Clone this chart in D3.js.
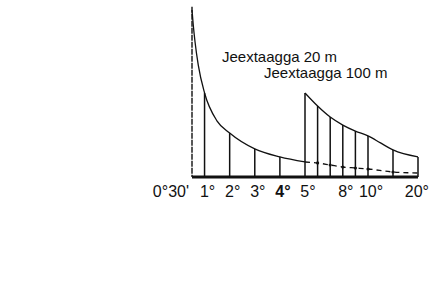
<!DOCTYPE html>
<html>
<head>
<meta charset="utf-8">
<script src="https://cdn.jsdelivr.net/npm/d3@7"></script>
<style>
  body { margin: 0; background: #fff; }
  text { font-family: "Liberation Sans", Arial, sans-serif; fill: #111; }
</style>
</head>
<body>
<div id="chart"></div>
<script>
// 20 m series (solid part), angle in degrees vs relative value
const deg20 = [0.5, 0.55, 0.62, 0.75, 1, 1.5, 2, 3, 4, 5];
const val20 = [100, 91, 81, 67, 50.3, 33.5, 26.3, 16.8, 12.0, 9.0];
// 20 m series continued (dashed)
const deg20b = [5, 6, 7, 8, 9, 10, 15, 20];
const val20b = [9.0, 8.4, 7.2, 6.0, 5.4, 4.8, 3.0, 2.4];
// 100 m series
const deg100 = [5, 6, 7, 8, 9, 10, 12.5, 15, 20];
const val100 = [50.3, 42.5, 35.9, 31.1, 27.5, 24.6, 20.4, 16.2, 12.0];
// which points get a vertical line
const stems20 = [1, 2, 3, 4];
const stems100 = [5, 6, 7, 8, 9, 10, 15, 20];
// axis ticks
const tickDeg = [0.5, 1, 2, 3, 4, 5, 8, 10, 20];
const tickLabels = ["0°30'", "1°", "2°", "3°", "4°", "5°", "8°", "10°", "20°"];
const seriesLabels = ["Jeextaagga 20 m", "Jeextaagga 100 m"];

const W = 430, H = 295;

const svg = d3.select("#chart").append("svg")
  .attr("width", W)
  .attr("height", H);

// piecewise scale, like the printed axis
const x = d3.scaleLinear().domain([0.5, 5, 10, 20]).range([192, 305, 368, 418]);
const y = d3.scaleLinear().domain([0, 100]).range([177, 10]);

const zip = (a, b) => a.map((d, i) => ({ d, v: b[i] }));
const s20 = zip(deg20, val20);
const s20b = zip(deg20b, val20b);
const s100 = zip(deg100, val100);

const line = d3.line()
  .x(p => x(p.d))
  .y(p => y(p.v))
  .curve(d3.curveMonotoneX);

// left axis line
svg.append("line")
  .attr("x1", x(0.5)).attr("x2", x(0.5))
  .attr("y1", y(102)).attr("y2", y(0))
  .attr("stroke", "#111")
  .attr("stroke-width", 1.4)
  .attr("stroke-dasharray", "6,1");

// stems
const lookup = (s, d) => s.find(p => p.d === d).v;
svg.selectAll("line.stem20")
  .data(stems20)
  .join("line")
  .attr("class", "stem20")
  .attr("x1", d => x(d)).attr("x2", d => x(d))
  .attr("y1", d => y(lookup(s20, d))).attr("y2", y(0))
  .attr("stroke", "#111").attr("stroke-width", 1.5);

svg.selectAll("line.stem100")
  .data(stems100)
  .join("line")
  .attr("class", "stem100")
  .attr("x1", d => x(d)).attr("x2", d => x(d))
  .attr("y1", d => y(lookup(s100, d))).attr("y2", y(0))
  .attr("stroke", "#111").attr("stroke-width", 1.5);

// curves
svg.append("path").datum(s20)
  .attr("d", line)
  .attr("fill", "none").attr("stroke", "#111").attr("stroke-width", 1.3);

svg.append("path").datum(s20b)
  .attr("d", line)
  .attr("fill", "none").attr("stroke", "#111").attr("stroke-width", 1.3)
  .attr("stroke-dasharray", "5,4");

svg.append("path").datum(s100)
  .attr("d", line)
  .attr("fill", "none").attr("stroke", "#111").attr("stroke-width", 1.3);

// little marks where stems cross the dashed line
svg.selectAll("circle.mark")
  .data(s20b.slice(1, -1))
  .join("circle")
  .attr("class", "mark")
  .attr("cx", p => x(p.d)).attr("cy", p => y(p.v))
  .attr("r", 1.6).attr("fill", "#111");

// baseline
svg.append("line")
  .attr("x1", x(0.5)).attr("x2", x(20))
  .attr("y1", y(0)).attr("y2", y(0))
  .attr("stroke", "#111").attr("stroke-width", 3);

// tick labels
const last = tickDeg.length - 1;
svg.selectAll("text.tick")
  .data(tickDeg)
  .join("text")
  .attr("class", "tick")
  .attr("x", (d, i) => i === 0 ? x(d) - 3 : i === last ? W - 1 : x(d) + 3)
  .attr("y", 197)
  .attr("text-anchor", (d, i) => i === 0 || i === last ? "end" : "middle")
  .attr("font-size", 16)
  .attr("font-weight", d => d === 4 ? "bold" : "normal")
  .text((d, i) => tickLabels[i]);

// series labels
svg.append("text")
  .attr("x", 222).attr("y", 62)
  .attr("font-size", 15)
  .text(seriesLabels[0]);

svg.append("text")
  .attr("x", 264).attr("y", 78)
  .attr("font-size", 15)
  .text(seriesLabels[1]);
</script>
</body>
</html>
